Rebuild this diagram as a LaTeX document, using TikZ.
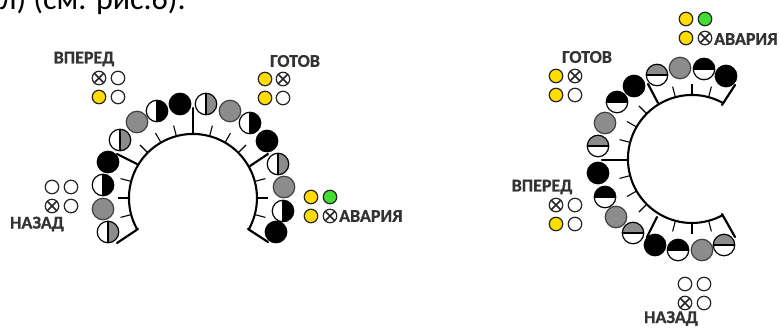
\documentclass[tikz,border=0pt]{standalone}
\usepackage{fontspec}
\usetikzlibrary{calc}
\setmainfont{Carlito}
\newfontfamily\lblfont[FakeBold=0.8]{Carlito Bold}
\definecolor{lampgray}{HTML}{8C8C8C}
\definecolor{lampyellow}{HTML}{FFDD00}
\definecolor{lampgreen}{HTML}{44DD33}
\definecolor{labelgray}{HTML}{333333}
\tikzset{
  big/.style={circle,draw=black,line width=1.2pt,fill=white,minimum size=21.5pt,inner sep=0pt},
  solidblack/.style={big,fill=black},
  solidgray/.style={big,fill=lampgray,draw=black!75},
  halfr/.style={big,path picture={
    \fill[#1] (path picture bounding box.north) rectangle (path picture bounding box.south east);
    \draw[black,line width=1.4pt] (path picture bounding box.north) -- (path picture bounding box.south);}},
  halft/.style={big,path picture={
    \fill[#1] (path picture bounding box.west) rectangle (path picture bounding box.north east);
    \draw[black,line width=1.4pt] (path picture bounding box.west) -- (path picture bounding box.east);}},
  small/.style={circle,draw=black!85,line width=1.2pt,fill=white,minimum size=13.5pt,inner sep=0pt},
  yel/.style={small,fill=lampyellow},
  grn/.style={small,fill=lampgreen},
  crossed/.style={small,path picture={
    \draw[black!85,line width=1.6pt] (path picture bounding box.north west) -- (path picture bounding box.south east)
      (path picture bounding box.north east) -- (path picture bounding box.south west);}},
  lbl/.style={font=\lblfont\fontsize{18}{18}\selectfont,text=labelgray,inner sep=0pt},
  arcline/.style={line width=2.1pt,black},
  tick/.style={line width=1.1pt,black},
  thick radial/.style={line width=2.2pt,black,line cap=round},
}
\begin{document}
\begin{tikzpicture}[x=1pt,y=-1pt]
\useasboundingbox (0,0) rectangle (779,327);
\begin{scope}
\clip (0,0) rectangle (779,327);
\node[anchor=base west,inner sep=0pt,font=\fontsize{32}{32}\selectfont,text=black] (caption) at (0,9) {л) (см. рис.6).};
\end{scope}

% left dial
\coordinate (LC) at (193,198);
\draw[arcline] (137,229) arc[start angle=209,end angle=-29,radius=64pt];
\foreach \a in {165,180,195,135,120,105,75,60,45,15,0,-15}
  \draw[tick] ($(LC)+(\a:64pt)$) -- ($(LC)+(\a:75pt)$);
\draw[thick radial] (138,229) -- (117,243);
\draw[thick radial] (137,164) -- (117,154);
\draw[thick radial] (193,134) -- (193,108);
\draw[thick radial] (250,166) -- (268,154);
\draw[thick radial] (248,229) -- (268,242);

% right dial
\coordinate (RC) at (692,159);
\draw[arcline] (723,103) arc[start angle=61,end angle=299,radius=64pt];
\foreach \a in {165,150,135,105,90,75,195,210,225,255,270,285}
  \draw[tick] ($(RC)+(\a:64pt)$) -- ($(RC)+(\a:75pt)$);
\draw[thick radial] (627,160) -- (602,160);
\draw[thick radial] (658,103) -- (648,84);
\draw[thick radial] (657,217) -- (647,237);
\draw[thick radial] (722,105) -- (735,85);
\draw[thick radial] (722,214) -- (735,237);

% left lamps
\node[halfr=lampgray] (l1) at (108,232) {};
\node[solidgray] (l2) at (103,209) {};
\node[halfr=black] (l3) at (103,185) {};
\node[solidblack] (l4) at (108,162) {};
\node[halfr=lampgray] (l5) at (120,140) {};
\node[solidgray] (l6) at (137,122) {};
\node[halfr=black] (l7) at (157,111) {};
\node[solidblack] (l8) at (180,104) {};
\node[halfr=lampgray] (l9) at (206,104) {};
\node[solidgray] (l10) at (230,111) {};
\node[halfr=black] (l11) at (250,123) {};
\node[solidblack] (l12) at (267,141) {};
\node[halfr=lampgray] (l13) at (278,164) {};
\node[solidgray] (l14) at (284,187) {};
\node[halfr=black] (l15) at (283,211) {};
\node[solidblack] (l16) at (276,232) {};

% right lamps
\node[solidblack] (r1) at (634,86) {};
\node[halft=black] (r2) at (617,102) {};
\node[solidgray] (r3) at (605,123) {};
\node[halft=lampgray] (r4) at (598,146) {};
\node[solidblack] (r5) at (598,173) {};
\node[halft=black] (r6) at (605,197) {};
\node[solidgray] (r7) at (616,217) {};
\node[halft=lampgray] (r8) at (633,233) {};
\node[halft=lampgray] (r9) at (657,75) {};
\node[solidgray] (r10) at (680,68) {};
\node[halft=black] (r11) at (704,69) {};
\node[solidblack] (r12) at (726,76) {};
\node[solidblack] (r13) at (655,245) {};
\node[halft=black] (r14) at (678,250) {};
\node[solidgray] (r15) at (702,250) {};
\node[halft=lampgray] (r16) at (724,245) {};

% left indicators
\node[lbl] (t1) at (84,59) {ВПЕРЕД};
\node[crossed] (a1) at (99,78) {};
\node[small] (a2) at (118,78) {};
\node[yel] (a3) at (99,97) {};
\node[small] (a4) at (118,97) {};
\node[lbl] (t2) at (37,224) {НАЗАД};
\node[small] (b1) at (52,187) {};
\node[small] (b2) at (71,187) {};
\node[crossed] (b3) at (52,206) {};
\node[small] (b4) at (71,206) {};
\node[lbl] (t3) at (295,61) {ГОТОВ};
\node[yel] (c1) at (265,79) {};
\node[crossed] (c2) at (283,79) {};
\node[yel] (c3) at (265,98) {};
\node[small] (c4) at (283,98) {};
\node[yel] (d1) at (311,197) {};
\node[grn] (d2) at (330,197) {};
\node[yel] (d3) at (311,216) {};
\node[crossed] (d4) at (330,216) {};
\node[lbl,anchor=west] (t4) at (339,216) {АВАРИЯ};

% right indicators
\node[yel] (e1) at (686,19) {};
\node[grn] (e2) at (705,19) {};
\node[yel] (e3) at (686,38) {};
\node[crossed] (e4) at (705,38) {};
\node[lbl,anchor=west] (t5) at (714,39) {АВАРИЯ};
\node[lbl] (t6) at (587,57) {ГОТОВ};
\node[yel] (f1) at (556,76) {};
\node[crossed] (f2) at (575,76) {};
\node[yel] (f3) at (556,95) {};
\node[small] (f4) at (575,95) {};
\node[lbl] (t7) at (542,187) {ВПЕРЕД};
\node[crossed] (g1) at (556,205) {};
\node[small] (g2) at (575,205) {};
\node[yel] (g3) at (556,224) {};
\node[small] (g4) at (575,224) {};
\node[small] (h1) at (685,284) {};
\node[small] (h2) at (704,284) {};
\node[crossed] (h3) at (685,303) {};
\node[small] (h4) at (704,303) {};
\node[lbl] (t8) at (671,318.5) {НАЗАД};
\end{tikzpicture}
\end{document}
